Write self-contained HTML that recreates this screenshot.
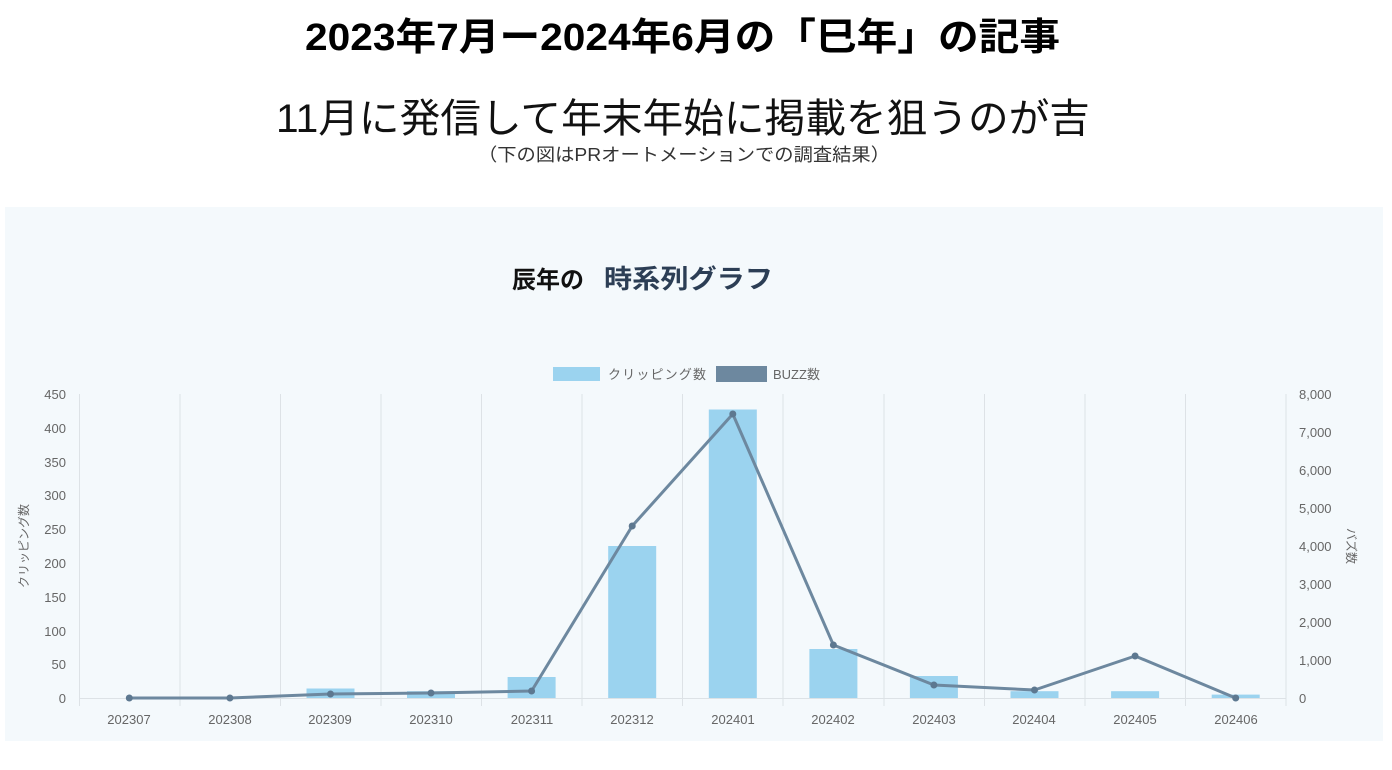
<!DOCTYPE html>
<html><head><meta charset="utf-8"><style>
body{margin:0;width:1392px;height:770px;background:#fff;overflow:hidden;font-family:"Liberation Sans","Noto Sans CJK JP",sans-serif}
</style></head><body>
<svg width="1392" height="770" xmlns="http://www.w3.org/2000/svg" style="position:absolute;left:0;top:0;font-family:'Liberation Sans','Noto Sans CJK JP',sans-serif">
<text x="305" y="50" textLength="755" lengthAdjust="spacingAndGlyphs" font-size="38" font-weight="bold" fill="#000">2023年7月ー2024年6月の「巳年」の記事</text>
<text x="276" y="132" textLength="814" lengthAdjust="spacingAndGlyphs" font-size="40" fill="#111">11月に発信して年末年始に掲載を狙うのが吉</text>
<text x="478" y="161" textLength="412" lengthAdjust="spacingAndGlyphs" font-size="18" fill="#333">（下の図はPRオートメーションでの調査結果）</text>
<rect x="5" y="207" width="1378" height="534" fill="#f4f9fc"/>
<text x="512" y="288" font-size="24" font-weight="bold" fill="#111">辰年の</text>
<text x="604" y="288" textLength="169" lengthAdjust="spacingAndGlyphs" font-size="26" font-weight="bold" fill="#2c3e55">時系列グラフ</text>
<rect x="553" y="367" width="47" height="14" fill="#9bd3ef"/>
<text x="608" y="379" textLength="98" font-size="13" fill="#666">クリッピング数</text>
<rect x="716" y="366" width="51" height="16" fill="#6d889f"/>
<text x="773" y="379" font-size="13" fill="#666">BUZZ数</text>
<g stroke="#dde2e6" stroke-width="1">
<line x1="79.5" y1="394" x2="79.5" y2="706"/><line x1="180" y1="394" x2="180" y2="706"/><line x1="280.5" y1="394" x2="280.5" y2="706"/><line x1="381" y1="394" x2="381" y2="706"/><line x1="481.5" y1="394" x2="481.5" y2="706"/><line x1="582" y1="394" x2="582" y2="706"/><line x1="682.5" y1="394" x2="682.5" y2="706"/><line x1="783" y1="394" x2="783" y2="706"/><line x1="884" y1="394" x2="884" y2="706"/><line x1="984.5" y1="394" x2="984.5" y2="706"/><line x1="1085" y1="394" x2="1085" y2="706"/><line x1="1185.5" y1="394" x2="1185.5" y2="706"/><line x1="1286" y1="394" x2="1286" y2="706"/>
<line x1="79" y1="698.5" x2="1286" y2="698.5"/>
</g>
<g font-size="13" fill="#666" text-anchor="end">
<text x="66" y="399">450</text><text x="66" y="433">400</text><text x="66" y="467">350</text><text x="66" y="500">300</text><text x="66" y="534">250</text><text x="66" y="568">200</text><text x="66" y="602">150</text><text x="66" y="636">100</text><text x="66" y="669">50</text><text x="66" y="703">0</text>
</g>
<g font-size="13" fill="#666" text-anchor="start">
<text x="1299" y="399">8,000</text><text x="1299" y="437">7,000</text><text x="1299" y="475">6,000</text><text x="1299" y="513">5,000</text><text x="1299" y="551">4,000</text><text x="1299" y="589">3,000</text><text x="1299" y="627">2,000</text><text x="1299" y="665">1,000</text><text x="1299" y="703">0</text>
</g>
<text transform="translate(28,546) rotate(-90)" text-anchor="middle" font-size="12" fill="#666">クリッピング数</text>
<text transform="translate(1347,546) rotate(90)" text-anchor="middle" font-size="12" fill="#666">バズ数</text>
<g font-size="13" fill="#666" text-anchor="middle">
<text x="129" y="724">202307</text><text x="230" y="724">202308</text><text x="330" y="724">202309</text><text x="431" y="724">202310</text><text x="532" y="724">202311</text><text x="632" y="724">202312</text><text x="733" y="724">202401</text><text x="833" y="724">202402</text><text x="934" y="724">202403</text><text x="1034" y="724">202404</text><text x="1135" y="724">202405</text><text x="1236" y="724">202406</text>
</g>
<g fill="#9bd3ef">
<rect x="306.5" y="688.5" width="48" height="9.5"/><rect x="407" y="691.2" width="48" height="6.8"/><rect x="507.6" y="677" width="48" height="21"/><rect x="608.2" y="546" width="48" height="152"/><rect x="708.8" y="409.5" width="48" height="288.5"/><rect x="809.4" y="649" width="48" height="49"/><rect x="909.9" y="676" width="48" height="22"/><rect x="1010.5" y="691.2" width="48" height="6.8"/><rect x="1111.1" y="691.2" width="48" height="6.8"/><rect x="1211.7" y="694.6" width="48" height="3.4"/>
</g>
<polyline fill="none" stroke="#6d889f" stroke-width="3" stroke-linejoin="round" points="129.3,698 229.9,698 330.5,694 431,693 531.6,691 632.2,526 732.8,414 833.4,645 933.9,685 1034.5,690 1135.1,656 1235.7,698"/>
<g fill="#5d7890">
<circle cx="129.3" cy="698" r="3.5"/><circle cx="229.9" cy="698" r="3.5"/><circle cx="330.5" cy="694" r="3.5"/><circle cx="431" cy="693" r="3.5"/><circle cx="531.6" cy="691" r="3.5"/><circle cx="632.2" cy="526" r="3.5"/><circle cx="732.8" cy="414" r="3.5"/><circle cx="833.4" cy="645" r="3.5"/><circle cx="933.9" cy="685" r="3.5"/><circle cx="1034.5" cy="690" r="3.5"/><circle cx="1135.1" cy="656" r="3.5"/><circle cx="1235.7" cy="698" r="3.5"/>
</g>
</svg>
</body></html>
